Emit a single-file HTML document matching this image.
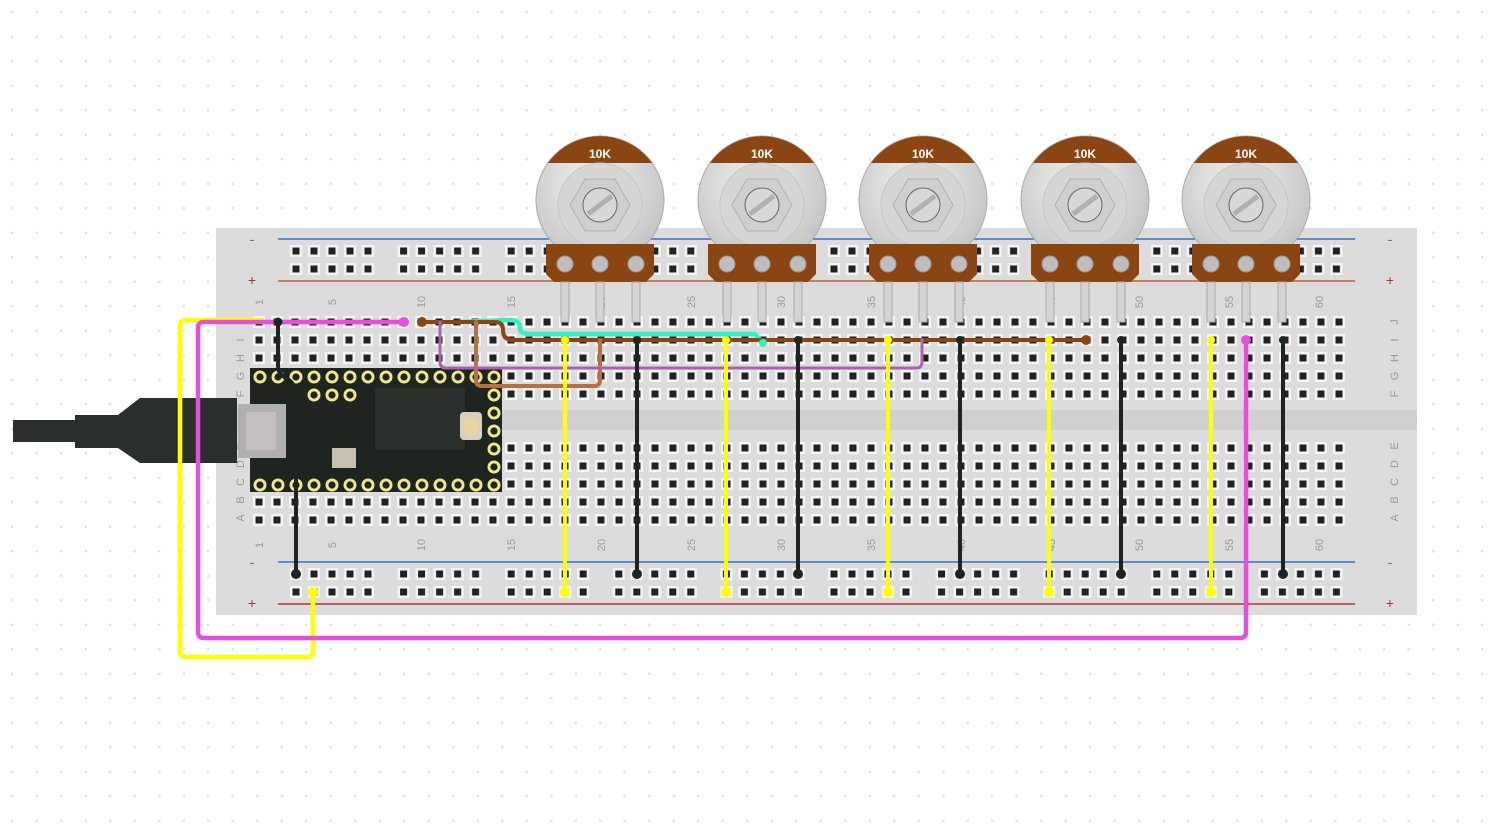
<!DOCTYPE html>
<html><head><meta charset="utf-8"><style>
html,body{margin:0;padding:0;background:#fff;}
svg{display:block;}
text{font-family:"Liberation Sans",sans-serif;}
</style></head><body>
<svg width="1488" height="830" viewBox="0 0 1488 830" xmlns="http://www.w3.org/2000/svg">
<defs>
<pattern id="bgdots" x="0" y="0" width="24.5" height="24.5" patternUnits="userSpaceOnUse">
<rect x="11" y="11" width="2.5" height="2.5" fill="#e4e4e4"/>
</pattern>
<pattern id="holes" x="250" y="313" width="18" height="18" patternUnits="userSpaceOnUse">
<rect x="3" y="3" width="12" height="12" fill="#f4f4f4"/>
<rect x="5.5" y="5.5" width="7" height="7" fill="#222"/>
</pattern>
<pattern id="rail" x="287" y="242" width="107.6" height="18" patternUnits="userSpaceOnUse">
<g fill="#f4f4f4"><rect x="3" y="3" width="12" height="12"/><rect x="21" y="3" width="12" height="12"/><rect x="39" y="3" width="12" height="12"/><rect x="57" y="3" width="12" height="12"/><rect x="75" y="3" width="12" height="12"/></g>
<g fill="#222"><rect x="5.5" y="5.5" width="7" height="7"/><rect x="23.5" y="5.5" width="7" height="7"/><rect x="41.5" y="5.5" width="7" height="7"/><rect x="59.5" y="5.5" width="7" height="7"/><rect x="77.5" y="5.5" width="7" height="7"/></g>
</pattern>
<pattern id="rail2" x="287" y="565" width="107.6" height="18" patternUnits="userSpaceOnUse">
<g fill="#f4f4f4"><rect x="3" y="3" width="12" height="12"/><rect x="21" y="3" width="12" height="12"/><rect x="39" y="3" width="12" height="12"/><rect x="57" y="3" width="12" height="12"/><rect x="75" y="3" width="12" height="12"/></g>
<g fill="#222"><rect x="5.5" y="5.5" width="7" height="7"/><rect x="23.5" y="5.5" width="7" height="7"/><rect x="41.5" y="5.5" width="7" height="7"/><rect x="59.5" y="5.5" width="7" height="7"/><rect x="77.5" y="5.5" width="7" height="7"/></g>
</pattern>
<pattern id="tpins" x="251" y="368" width="18" height="18" patternUnits="userSpaceOnUse">
<circle cx="9" cy="9" r="6.5" fill="#f0e68c"/><circle cx="9" cy="9" r="3.6" fill="#1e2420"/>
</pattern>
<radialGradient id="knob" cx="0.45" cy="0.4" r="0.7">
<stop offset="0" stop-color="#f4f4f4"/><stop offset="1" stop-color="#bdbdbd"/>
</radialGradient>
<g id="pot">
<circle cx="0" cy="0" r="64" fill="url(#knob)" stroke="#aaa"/>
<path d="M-52,-37 A64,64 0 0 1 52,-37 Z" fill="#8b4513"/>
<circle cx="0" cy="5" r="42" fill="#d6d6d6" stroke="#c6c6c6"/>
<polygon points="-30,5 -15,-21 15,-21 30,5 15,31 -15,31" fill="#cfcfcf" stroke="#b0b0b0"/>
<circle cx="0" cy="5" r="17" fill="#d8d8d8" stroke="#666" stroke-width="1"/>
<line x1="-12" y1="14" x2="12" y2="-4" stroke="#b0b0b0" stroke-width="5"/>
<text x="0" y="-42" font-size="12" font-weight="bold" fill="#fff" text-anchor="middle">10K</text>
<path d="M-54,44 L54,44 L54,74 L46,82 L-46,82 L-54,74 Z" fill="#8b4513"/>
<g fill="#bdbdbd" stroke="#999"><circle cx="-35" cy="64" r="8"/><circle cx="0" cy="64" r="8"/><circle cx="36" cy="64" r="8"/></g>
<g fill="#d4d4d4" stroke="#aaa"><rect x="-39" y="82" width="8" height="40"/><rect x="-4" y="82" width="8" height="40"/><rect x="32" y="82" width="8" height="40"/></g>
</g>
</defs>
<rect width="1488" height="830" fill="#fff"/>
<rect width="1488" height="830" fill="url(#bgdots)"/>

<!-- breadboard -->
<rect x="216" y="228" width="1201" height="387" fill="#dcdcdc"/>
<rect x="216" y="410" width="1201" height="20" fill="#d0d0d0"/>
<line x1="278" y1="239" x2="1355" y2="239" stroke="#3a6fc4" stroke-width="1.5"/>
<line x1="278" y1="281" x2="1355" y2="281" stroke="#b8643c" stroke-width="1.5"/>
<line x1="278" y1="562" x2="1355" y2="562" stroke="#3a6fc4" stroke-width="1.5"/>
<line x1="278" y1="604" x2="1355" y2="604" stroke="#b8343c" stroke-width="1.5"/>
<rect x="287" y="242" width="1070" height="36" fill="url(#rail)"/>
<rect x="287" y="565" width="1070" height="36" fill="url(#rail2)"/>
<rect x="250" y="313" width="1098" height="90" fill="url(#holes)"/>
<rect x="250" y="437" width="1098" height="90" fill="url(#holes)"/>
<g fill="#3a6fc4" font-size="14" text-anchor="middle"><text x="252" y="244">-</text><text x="1390" y="244">-</text><text x="252" y="567">-</text><text x="1390" y="567">-</text></g>
<g fill="#b03030" font-size="14" text-anchor="middle"><text x="252" y="285">+</text><text x="1390" y="285">+</text><text x="252" y="608">+</text><text x="1390" y="608">+</text></g>
<g fill="#999" font-size="11" text-anchor="middle">
<text transform="translate(244,322) rotate(-90)">J</text><text transform="translate(244,340) rotate(-90)">I</text><text transform="translate(244,358) rotate(-90)">H</text><text transform="translate(244,376) rotate(-90)">G</text><text transform="translate(244,394) rotate(-90)">F</text>
<text transform="translate(244,446) rotate(-90)">E</text><text transform="translate(244,464) rotate(-90)">D</text><text transform="translate(244,482) rotate(-90)">C</text><text transform="translate(244,500) rotate(-90)">B</text><text transform="translate(244,518) rotate(-90)">A</text>
<text transform="translate(1398,322) rotate(-90)">J</text><text transform="translate(1398,340) rotate(-90)">I</text><text transform="translate(1398,358) rotate(-90)">H</text><text transform="translate(1398,376) rotate(-90)">G</text><text transform="translate(1398,394) rotate(-90)">F</text>
<text transform="translate(1398,446) rotate(-90)">E</text><text transform="translate(1398,464) rotate(-90)">D</text><text transform="translate(1398,482) rotate(-90)">C</text><text transform="translate(1398,500) rotate(-90)">B</text><text transform="translate(1398,518) rotate(-90)">A</text>
<text transform="translate(263,302) rotate(-90)">1</text><text transform="translate(336,302) rotate(-90)">5</text><text transform="translate(425,302) rotate(-90)">10</text><text transform="translate(515,302) rotate(-90)">15</text><text transform="translate(605,302) rotate(-90)">20</text><text transform="translate(695,302) rotate(-90)">25</text><text transform="translate(785,302) rotate(-90)">30</text><text transform="translate(875,302) rotate(-90)">35</text><text transform="translate(965,302) rotate(-90)">40</text><text transform="translate(1055,302) rotate(-90)">45</text><text transform="translate(1143,302) rotate(-90)">50</text><text transform="translate(1233,302) rotate(-90)">55</text><text transform="translate(1323,302) rotate(-90)">60</text>
<text transform="translate(263,545) rotate(-90)">1</text><text transform="translate(336,545) rotate(-90)">5</text><text transform="translate(425,545) rotate(-90)">10</text><text transform="translate(515,545) rotate(-90)">15</text><text transform="translate(605,545) rotate(-90)">20</text><text transform="translate(695,545) rotate(-90)">25</text><text transform="translate(785,545) rotate(-90)">30</text><text transform="translate(875,545) rotate(-90)">35</text><text transform="translate(965,545) rotate(-90)">40</text><text transform="translate(1055,545) rotate(-90)">45</text><text transform="translate(1143,545) rotate(-90)">50</text><text transform="translate(1233,545) rotate(-90)">55</text><text transform="translate(1323,545) rotate(-90)">60</text>
</g>

<!-- pots -->
<use href="#pot" x="600" y="200"/>
<use href="#pot" x="762" y="200"/>
<use href="#pot" x="923" y="200"/>
<use href="#pot" x="1085" y="200"/>
<use href="#pot" x="1246" y="200"/>

<!-- teensy -->
<rect x="250" y="368" width="252" height="124" fill="#1e2420"/>
<rect x="251" y="368" width="252" height="18" fill="url(#tpins)"/>
<rect x="251" y="474" width="252" height="18" fill="url(#tpins)"/>
<rect x="305" y="386" width="54" height="18" fill="url(#tpins)"/>
<rect x="485" y="386" width="18" height="90" fill="url(#tpins)"/>
<rect x="375" y="388" width="90" height="62" fill="#2a302c"/>
<rect x="460" y="412" width="22" height="28" fill="#d8d0c0" rx="4"/>
<ellipse cx="471" cy="426" rx="8" ry="9" fill="#e8d8a0"/>
<rect x="332" y="448" width="24" height="20" fill="#c8c0b0"/>
<rect x="238" y="404" width="48" height="54" fill="#b0b0b0"/>
<rect x="246" y="412" width="30" height="38" fill="#c4c0c0"/>
<!-- cable -->
<rect x="13" y="420" width="62" height="22" fill="#2a2e2c"/>
<path d="M75,415 L118,415 L140,398 L237,398 L237,463 L140,463 L118,448 L75,448 Z" fill="#2a2e2c"/>

<!-- wires -->
<g fill="none" stroke-linecap="round" stroke-linejoin="round">
<path d="M262,320 L186,320 Q180,320 180,326 L180,651 Q180,657 186,657 L307,657 Q313,657 313,651 L313,592" stroke="#ffff00" stroke-width="4.5"/>
<path d="M404,322 L204,322 Q198,322 198,328 L198,632 Q198,638 204,638 L1240,638 Q1246,638 1246,632 L1246,340" stroke="#e64fdc" stroke-width="4.5"/>
<path d="M278,322 L278,366 Q278,374 286,378 Q296,384 296,394 L296,574" stroke="#1e2420" stroke-width="4"/>
<path d="M458,322 L510,320 Q520,320 520,328 Q520,334 530,334 L755,334 L763,343" stroke="#33f2c2" stroke-width="4.5"/>
<path d="M422,322 L495,322 Q503,322 503,330 Q503,340 513,340 L1086,340" stroke="#8b4513" stroke-width="4"/>
<path d="M476,322 L476,380 Q476,386 482,386 L594,386 Q600,386 600,380 L600,340" stroke="#b87040" stroke-width="4"/>
<path d="M440,322 L440,362 Q440,368 446,368 L916,368 Q922,368 922,362 L922,340" stroke="#b060b0" stroke-width="3"/>
<g stroke="#ffff00" stroke-width="4"><path d="M565,340V592"/><path d="M726,340V592"/><path d="M888,340V592"/><path d="M1049,340V592"/><path d="M1211,340V592"/></g>
<g stroke="#1e2420" stroke-width="4"><path d="M637,340V574"/><path d="M798,340V574"/><path d="M960,340V574"/><path d="M1121,340V574"/><path d="M1283,340V574"/></g>
</g>
<g>
<circle cx="404" cy="322" r="5" fill="#e64fdc"/><circle cx="1246" cy="340" r="5" fill="#e64fdc"/>
<circle cx="278" cy="322" r="4.5" fill="#1e2420"/><circle cx="296" cy="574" r="5" fill="#1e2420"/>
<circle cx="313" cy="592" r="5" fill="#ffff00"/>
<circle cx="422" cy="322" r="5" fill="#8b4513"/><circle cx="1086" cy="340" r="5" fill="#8b4513"/>
<circle cx="763" cy="343" r="4" fill="#33f2c2"/>
<g fill="#ffff00"><circle cx="565" cy="340" r="4"/><circle cx="565" cy="592" r="5"/><circle cx="726" cy="340" r="4"/><circle cx="726" cy="592" r="5"/><circle cx="888" cy="340" r="4"/><circle cx="888" cy="592" r="5"/><circle cx="1049" cy="340" r="4"/><circle cx="1049" cy="592" r="5"/><circle cx="1211" cy="340" r="4"/><circle cx="1211" cy="592" r="5"/></g>
<g fill="#1e2420"><circle cx="637" cy="340" r="4"/><circle cx="637" cy="574" r="5"/><circle cx="798" cy="340" r="4"/><circle cx="798" cy="574" r="5"/><circle cx="960" cy="340" r="4"/><circle cx="960" cy="574" r="5"/><circle cx="1121" cy="340" r="4"/><circle cx="1121" cy="574" r="5"/><circle cx="1283" cy="340" r="4"/><circle cx="1283" cy="574" r="5"/></g>
</g>
</svg>
</body></html>
